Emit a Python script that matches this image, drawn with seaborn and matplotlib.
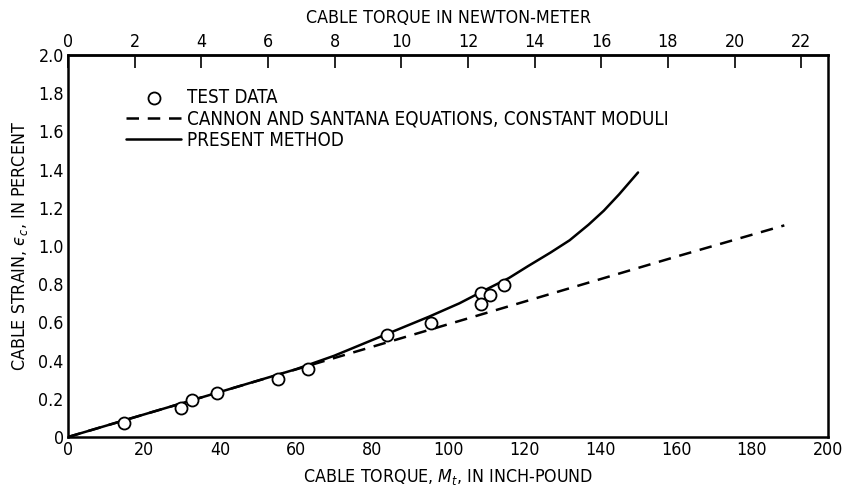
import matplotlib
matplotlib.use("Agg")
import matplotlib.pyplot as plt
import seaborn as sns
import pandas as pd

# Test data (inch-pound, percent)
test_torque = [14.8, 29.6, 32.6, 39.3, 55.2, 63.1, 83.9, 95.5, 108.8, 108.6, 111.0, 114.7]
test_strain = [0.075, 0.151, 0.194, 0.229, 0.303, 0.357, 0.532, 0.597, 0.754, 0.697, 0.745, 0.794]

# Cannon and Santana equations, constant moduli
cs_torque = [0, 40, 80, 120, 160, 188.5]
cs_strain = [0, 0.236, 0.472, 0.708, 0.944, 1.108]

# Present method
pm_torque = [0, 20, 40, 60, 70, 84, 95, 103, 110, 116, 121, 127, 132, 137, 141, 145, 150]
pm_strain = [0, 0.118, 0.236, 0.355, 0.425, 0.54, 0.63, 0.70, 0.772, 0.832, 0.894, 0.966, 1.030, 1.112, 1.185, 1.27, 1.385]

x_ticks = list(range(0, 201, 20))
y_ticks = [0, 0.2, 0.4, 0.6, 0.8, 1.0, 1.2, 1.4, 1.6, 1.8, 2.0]
y_tick_labels = ["0", "0.2", "0.4", "0.6", "0.8", "1.0", "1.2", "1.4", "1.6", "1.8", "2.0"]
nm_ticks = list(range(0, 23, 2))
NM_TO_INLB = 8.77

sns.set_theme(style="white")
plt.rcParams['font.family'] = ['DejaVu Sans']
plt.rcParams['font.stretch'] = 'condensed'
plt.rcParams['text.color'] = 'black'
plt.rcParams['axes.labelcolor'] = 'black'
plt.rcParams['xtick.color'] = 'black'
plt.rcParams['ytick.color'] = 'black'
plt.rcParams['mathtext.fontset'] = 'custom'
plt.rcParams['mathtext.it'] = 'DejaVu Sans:italic'
plt.rcParams['mathtext.rm'] = 'DejaVu Sans'

FS = 12.8

fig = plt.figure(figsize=(8.42, 4.87), dpi=100)
ax = fig.add_axes([0.0808, 0.1027, 0.9026, 0.7843])

df_cs = pd.DataFrame({"x": cs_torque, "y": cs_strain})
df_pm = pd.DataFrame({"x": pm_torque, "y": pm_strain})
df_t = pd.DataFrame({"x": test_torque, "y": test_strain})

sns.lineplot(data=df_cs, x="x", y="y", ax=ax, color="black", lw=1.8,
             linestyle=(0, (5, 3.5)), sort=False, label="CANNON AND SANTANA EQUATIONS, CONSTANT MODULI")
sns.lineplot(data=df_pm, x="x", y="y", ax=ax, color="black", lw=1.8,
             sort=False, label="PRESENT METHOD")
sns.scatterplot(data=df_t, x="x", y="y", ax=ax, s=75, facecolor="white",
                edgecolor="black", linewidth=1.3, zorder=5, label="TEST DATA")

ax.set_xlim(0, 200)
ax.set_ylim(0, 2.0)
ax.set_xticks(x_ticks)
ax.set_yticks(y_ticks)
ax.set_yticklabels(y_tick_labels)
ax.tick_params(direction="in", length=9, width=1.2, labelsize=FS, colors="black", pad=3)
ax.tick_params(axis="y", length=7)
for s in ax.spines.values():
    s.set_color("black")
    s.set_linewidth(1.8)

ax.set_xlabel("CABLE TORQUE, $M_t$, IN INCH-POUND", fontsize=FS, labelpad=6, color="black")
ax.set_ylabel("CABLE STRAIN, $\u03f5_c$, IN PERCENT", fontsize=FS, labelpad=6, color="black")

sec = ax.secondary_xaxis("top", functions=(lambda v: v / NM_TO_INLB, lambda v: v * NM_TO_INLB))
sec.set_xticks(nm_ticks)
sec.tick_params(direction="in", length=9, width=1.2, labelsize=FS, colors="black", pad=3)
sec.set_xlabel("CABLE TORQUE IN NEWTON-METER", fontsize=FS, labelpad=7, color="black")
sec.spines["top"].set_linewidth(1.8)

handles, labels = ax.get_legend_handles_labels()
order = [labels.index("TEST DATA"),
         labels.index("CANNON AND SANTANA EQUATIONS, CONSTANT MODULI"),
         labels.index("PRESENT METHOD")]
leg = ax.legend([handles[i] for i in order], [labels[i] for i in order],
                loc="upper left", bbox_to_anchor=(0.067, 0.933), frameon=False,
                fontsize=13.5, handlelength=2.9, handletextpad=0.35, labelspacing=0.12,
                borderaxespad=0)
for t in leg.get_texts():
    t.set_color("black")

fig.savefig("out.png", dpi=100, facecolor="white")
